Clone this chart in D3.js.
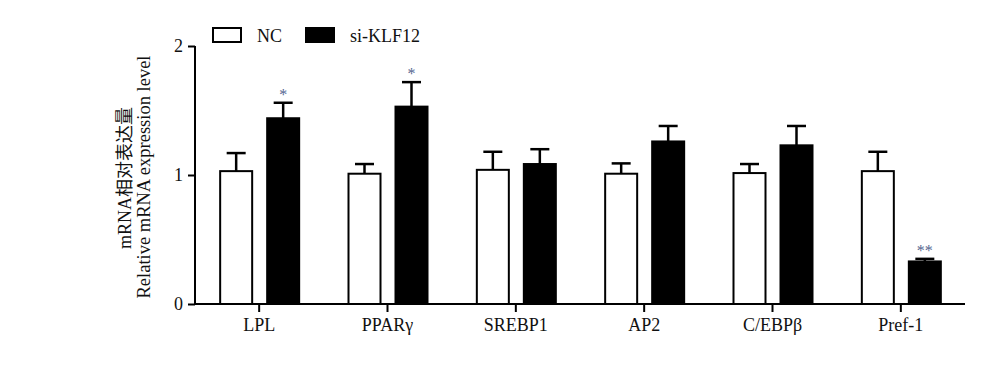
<!DOCTYPE html>
<html>
<head>
<meta charset="utf-8">
<script src="https://cdn.jsdelivr.net/npm/d3@7"></script>
<style>
  body { margin: 0; background: #fff; }
  svg text { font-family: "Liberation Serif", "Times New Roman", "Noto Sans CJK SC", serif; }
</style>
</head>
<body>
<div id="chart"></div>
<script>
// gene categories and the two groups
var categories = ['LPL', 'PPARγ', 'SREBP1', 'AP2', 'C/EBPβ', 'Pref-1'];
var groups = ['NC', 'si-KLF12'];

// mean values
var ncValues = [1.03, 1.01, 1.04, 1.01, 1.015, 1.03];
var siValues = [1.44, 1.53, 1.085, 1.26, 1.23, 0.33];
// top of the error bar (mean + error)
var ncErrTop = [1.17, 1.085, 1.18, 1.09, 1.085, 1.18];
var siErrTop = [1.56, 1.72, 1.20, 1.38, 1.38, 0.35];
// significance marks on si-KLF12
var siMarks = ['*', '*', '', '', '', '**'];

var yTicks = [0, 1, 2];

(function (d3) {
    'use strict';

    var W = 990, H = 368;
    var FS = 18;
    var svg = d3.select('#chart').append('svg')
        .attr('width', W).attr('height', H);

    var x = d3.scaleBand().domain(categories).range([195, 965]);
    var sub = d3.scaleBand().domain(groups).range([-39, 40]).paddingInner(15 / 47);
    var y = d3.scaleLinear().domain([0, 2]).range([304, 46]);

    var rows = [];
    categories.forEach(function (c, i) {
        rows.push({cat: c, grp: 'NC', v: ncValues[i], e: ncErrTop[i], mark: ''});
        rows.push({cat: c, grp: 'si-KLF12', v: siValues[i], e: siErrTop[i], mark: siMarks[i]});
    });
    function cx(d) { return x(d.cat) + x.bandwidth() / 2 + sub(d.grp); }

    // error bars (drawn first so the bar covers the lower half)
    var err = svg.append('g').attr('stroke', '#000').attr('stroke-width', 2.5);
    err.selectAll('line.v').data(rows).enter().append('line')
        .attr('x1', function (d) { return cx(d) + sub.bandwidth() / 2; })
        .attr('x2', function (d) { return cx(d) + sub.bandwidth() / 2; })
        .attr('y1', function (d) { return y(d.v); })
        .attr('y2', function (d) { return y(d.e); });
    err.selectAll('line.c').data(rows).enter().append('line')
        .attr('x1', function (d) { return cx(d) + sub.bandwidth() / 2 - 9.5; })
        .attr('x2', function (d) { return cx(d) + sub.bandwidth() / 2 + 9.5; })
        .attr('y1', function (d) { return y(d.e); })
        .attr('y2', function (d) { return y(d.e); });

    // bars
    svg.append('g').selectAll('rect').data(rows).enter().append('rect')
        .attr('x', cx)
        .attr('y', function (d) { return y(d.v); })
        .attr('width', sub.bandwidth())
        .attr('height', function (d) { return y(0) - y(d.v); })
        .attr('fill', function (d) { return d.grp === 'NC' ? '#fff' : '#000'; })
        .attr('stroke', '#000')
        .attr('stroke-width', 2);

    // significance asterisks
    svg.append('g').selectAll('text').data(rows.filter(function (d) { return d.mark; }))
        .enter().append('text')
        .attr('x', function (d) { return cx(d) + sub.bandwidth() / 2; })
        .attr('y', function (d) { return y(d.e) - 3; })
        .attr('text-anchor', 'middle')
        .attr('font-size', 16)
        .attr('fill', '#55668f')
        .text(function (d) { return d.mark; });

    // y axis
    var yAxis = svg.append('g').attr('transform', 'translate(195,0)')
        .call(d3.axisLeft(y).tickValues(yTicks).tickSize(7).tickPadding(5).tickFormat(d3.format('d')));
    // x axis
    var xAxis = svg.append('g').attr('transform', 'translate(0,304)')
        .call(d3.axisBottom(x).tickSize(8).tickSizeOuter(0).tickPadding(6));
    [yAxis, xAxis].forEach(function (a) {
        a.selectAll('path, line').attr('stroke', '#000').attr('stroke-width', 2);
        a.selectAll('text').attr('font-size', FS).attr('fill', '#111')
            .attr('font-family', '"Liberation Serif", serif');
    });
    yAxis.select('path.domain').attr('d', 'M0,46V304');
    xAxis.select('path.domain').attr('d', 'M195,0H965');

    // y axis titles
    svg.append('text')
        .attr('transform', 'translate(131,178) rotate(-90)')
        .attr('text-anchor', 'middle')
        .attr('font-size', FS)
        .attr('fill', '#111')
        .text('mRNA相对表达量');
    svg.append('text')
        .attr('transform', 'translate(150,177) rotate(-90)')
        .attr('text-anchor', 'middle')
        .attr('font-size', 18.5)
        .attr('fill', '#111')
        .text('Relative mRNA expression level');

    // legend
    var legX = [213, 306];
    var leg = svg.append('g').selectAll('g').data(groups).enter().append('g')
        .attr('transform', function (d, i) { return 'translate(' + legX[i] + ',28)'; });
    leg.append('rect')
        .attr('width', 28).attr('height', 14)
        .attr('fill', function (d) { return d === 'NC' ? '#fff' : '#000'; })
        .attr('stroke', '#000').attr('stroke-width', 2);
    leg.append('text')
        .attr('x', 44).attr('y', 14)
        .attr('font-size', FS)
        .attr('fill', '#111')
        .text(function (d) { return d; });
}(window.d3));
</script>
</body>
</html>
